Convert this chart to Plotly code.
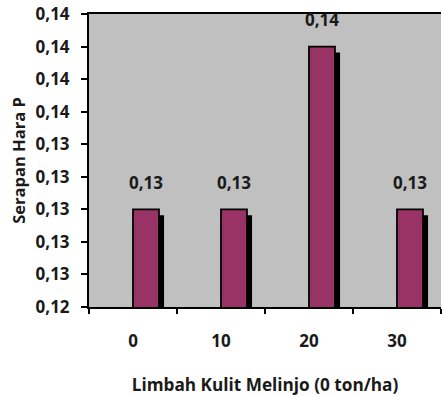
import plotly.graph_objects as go

categories = ["0", "10", "20", "30"]
values = [0.130, 0.130, 0.140, 0.130]
y_ticks = [0.124, 0.126, 0.128, 0.130, 0.132, 0.134, 0.136, 0.138, 0.140, 0.142]
y_title = "Serapan Hara P"
x_title = "Limbah Kulit Melinjo (0 ton/ha)"

def fmt(v):
    return f"{v:.2f}".replace(".", ",")

y_ticktext = ["<b>" + fmt(v) + "</b>" for v in y_ticks]
x_ticktext = ["<b>" + c + "</b>" for c in categories]
labels = [fmt(v) for v in values]

bar_w = 0.295
shadow_dx = 0.058
shadow_dy = 0.00037

FONT = "Open Sans"
TXT = "#1a1a1a"
TS = 17

fig = go.Figure()
fig.add_trace(go.Bar(
    x=categories, y=[v - shadow_dy for v in values],
    width=bar_w, offset=shadow_dx,
    marker=dict(color="black", line=dict(width=0)),
    hoverinfo="skip", showlegend=False,
))
fig.add_trace(go.Bar(
    x=categories, y=values,
    width=bar_w, offset=0,
    marker=dict(color="#993366", line=dict(color="black", width=1.8)),
    showlegend=False,
))

for i, (v, t) in enumerate(zip(values, labels)):
    fig.add_annotation(x=i + bar_w / 2, y=v, text="<b>" + t + "</b>", showarrow=False,
                       yshift=27, yanchor="middle", xanchor="center",
                       font=dict(family=FONT, size=TS, color=TXT))

fig.update_layout(
    width=442, height=396,
    margin=dict(l=89, r=1, t=14, b=89),
    paper_bgcolor="white", plot_bgcolor="#C0C0C0",
    barmode="overlay",
    font=dict(family=FONT, size=TS, color=TXT),
    xaxis=dict(
        type="category", tickson="boundaries",
        tickvals=categories, ticktext=x_ticktext,
        ticks="outside", ticklen=5, tickwidth=2, tickcolor="black",
        showline=True, linecolor="black", linewidth=2, mirror=True,
        showgrid=False, ticklabelstandoff=18,
        tickfont=dict(family=FONT, size=TS, color=TXT),
        title=dict(text="<b>" + x_title + "</b>", standoff=28,
                   font=dict(family=FONT, size=17.2, color=TXT)),
        range=[-0.5, 3.5],
    ),
    yaxis=dict(
        range=[0.124, 0.142], tickvals=y_ticks, ticktext=y_ticktext,
        ticks="outside", ticklen=6, tickwidth=2, tickcolor="black",
        showline=True, linecolor="black", linewidth=2,
        showgrid=False, zeroline=False, ticklabelstandoff=8,
        tickfont=dict(family=FONT, size=TS, color=TXT),
        title=dict(text="<b>" + y_title + "</b>", standoff=6,
                   font=dict(family=FONT, size=16.5, color=TXT)),
    ),
)

fig.write_html("out.html")
